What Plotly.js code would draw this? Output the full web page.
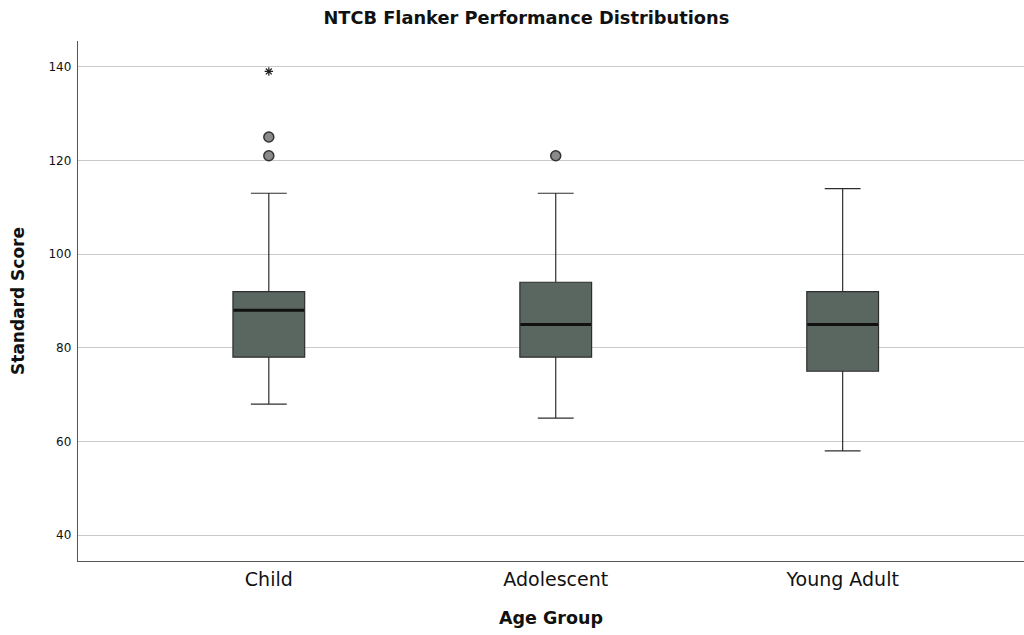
<!DOCTYPE html>
<html>
<head>
<meta charset="utf-8">
<script src="https://cdn.plot.ly/plotly-3.0.1.min.js"></script>
<style>
  html, body { margin: 0; padding: 0; background: #ffffff; }
  #chart { width: 1024px; height: 635px; }
</style>
</head>
<body>
<div id="chart"></div>
<script>
// Age groups and five-number summaries of the Flanker standard scores
const groups = ['Child', 'Adolescent', 'Young Adult'];
const lowerWhisker = [68, 65, 58];
const q1 = [78, 78, 75];
const median = [88, 85, 85];
const q3 = [92, 94, 92];
const upperWhisker = [113, 113, 114];

// Points beyond the whiskers
const outlierGroup = ['Child', 'Child', 'Adolescent'];
const outlierScore = [121, 125, 121];
const extremeGroup = ['Child'];
const extremeScore = [139];

const yTicks = [40, 60, 80, 100, 120, 140];

const font = 'Lucida Grande, "DejaVu Sans", "Open Sans", sans-serif';

const traces = [
  {
    type: 'box',
    x: groups,
    q1: q1,
    median: median,
    q3: q3,
    lowerfence: lowerWhisker,
    upperfence: upperWhisker,
    width: 0.25,
    whiskerwidth: 0.5,
    fillcolor: '#5a6660',
    line: { color: '#2e2e2e', width: 1.2 },
    boxpoints: false,
    hoverinfo: 'skip',
    showlegend: false
  },
  {
    // heavier median bars drawn over each box
    type: 'scatter',
    mode: 'markers',
    x: groups,
    y: median,
    marker: { symbol: 'line-ew', size: 50.5, color: '#000000', line: { color: '#111111', width: 3 } },
    hoverinfo: 'skip',
    showlegend: false
  },
  {
    type: 'scatter',
    mode: 'markers',
    x: outlierGroup,
    y: outlierScore,
    marker: { symbol: 'circle', size: 10, color: '#8a8a8a', line: { color: '#333333', width: 1.5 } },
    hoverinfo: 'skip',
    showlegend: false
  },
  {
    type: 'scatter',
    mode: 'markers',
    x: extremeGroup,
    y: extremeScore,
    marker: { symbol: 'asterisk-open', size: 7, color: '#222222', line: { color: '#222222', width: 1.2 } },
    hoverinfo: 'skip',
    showlegend: false
  }
];

const layout = {
  width: 1024,
  height: 635,
  margin: { l: 78, r: 0, t: 41, b: 74 },
  paper_bgcolor: '#ffffff',
  plot_bgcolor: '#ffffff',
  font: { family: font, color: '#111111' },
  title: {
    text: '<b>NTCB Flanker Performance Distributions</b>',
    font: { family: font, size: 17.8, color: '#111111' },
    x: 0.514,
    xanchor: 'center',
    xref: 'container',
    y: 0.972,
    yanchor: 'middle',
    yref: 'container'
  },
  xaxis: {
    type: 'category',
    categoryorder: 'array',
    categoryarray: groups,
    range: [-0.665, 2.632],
    showgrid: false,
    zeroline: false,
    showline: true,
    linecolor: '#555555',
    linewidth: 1.2,
    ticks: '',
    ticklabelstandoff: 1,
    tickfont: { family: font, size: 19, color: '#111111' },
    title: { text: '<b>Age Group</b>', font: { family: font, size: 17.5, color: '#111111' }, standoff: 22 }
  },
  yaxis: {
    range: [34.5, 145.5],
    tickvals: yTicks,
    ticktext: yTicks.map(String),
    showgrid: true,
    gridcolor: '#cacaca',
    gridwidth: 1,
    zeroline: false,
    showline: true,
    linecolor: '#555555',
    linewidth: 1.2,
    ticks: '',
    ticklabelstandoff: 3,
    tickfont: { family: font, size: 12, color: '#111111' },
    title: { text: '<b>Standard Score</b>', font: { family: font, size: 17, color: '#111111' }, standoff: 19 }
  }
};

Plotly.newPlot('chart', traces, layout, { displayModeBar: false, staticPlot: true });
</script>
</body>
</html>
